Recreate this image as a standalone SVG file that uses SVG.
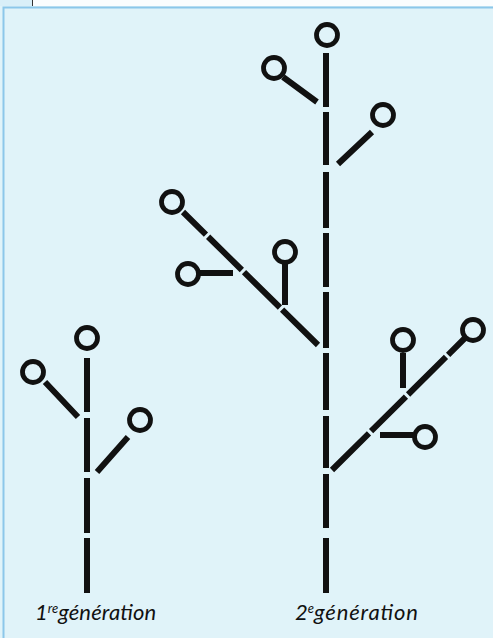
<svg xmlns="http://www.w3.org/2000/svg" width="493" height="638" viewBox="0 0 493 638">
<style>
.bg{fill:#e0f3f9}
.ln{stroke:#111;stroke-width:6;fill:none;stroke-linecap:butt}
.nd{stroke:#111;stroke-width:4.8;fill:none}
.lb{font-family:Lato,"Open Sans","Liberation Sans",sans-serif;font-style:italic;fill:#111;font-size:22px}
.sup{font-size:13px}
</style>
<rect x="0" y="0" width="493" height="638" fill="#fbfdfe"/>
<rect x="0" y="0" width="33" height="8" fill="#d9eff8"/>
<line x1="32.5" y1="0" x2="32.5" y2="7" stroke="#333" stroke-width="1"/>
<rect class="bg" x="0" y="6" width="493" height="632"/>
<path d="M3.5 638V7.5H493" stroke="#8cc7ea" stroke-width="2" fill="none"/>
<g id="connectors">
<path class="ln" d="M87 358V412M87 418V472M87 478V533M87 538V593"/>
<path class="ln" d="M45 382L78 417M128 437L97 472"/>
<path class="ln" d="M326 53V107M326 112V165M326 172V228M326 233V287M326 292V348M326 353V410M326 416V468M326 474V528M326 538V593"/>
<path class="ln" d="M283 77L317 102M372 132L338 164"/>
<path class="ln" d="M183 212L205.95 234.61M208.11 236.74L241.86 269.99M244.02 272.12L279.93 307.49M282.09 309.62L318 345"/>
<path class="ln" d="M200 273H233M285 263V305"/>
<path class="ln" d="M332 470L368.97 433.3M371.1 431.19L405.95 396.61M408.08 394.5L445.98 356.88M448.11 354.76L465 338"/>
<path class="ln" d="M403 353V388M380 435H413"/>
</g>
<g id="g1-top"><circle class="nd" cx="87" cy="338" r="10.5"/></g>
<g id="g1-left"><circle class="nd" cx="33" cy="372" r="10.5"/></g>
<g id="g1-right"><circle class="nd" cx="140" cy="420" r="10.5"/></g>
<g id="g2-top"><circle class="nd" cx="327" cy="35" r="10.5"/></g>
<g id="g2-upper-left"><circle class="nd" cx="274" cy="68" r="10.5"/></g>
<g id="g2-upper-right"><circle class="nd" cx="383" cy="115" r="10.5"/></g>
<g id="g2-left"><circle class="nd" cx="172" cy="202" r="10.5"/></g>
<g id="g2-left-h"><circle class="nd" cx="188" cy="274" r="10.5"/></g>
<g id="g2-left-v"><circle class="nd" cx="285" cy="252" r="10.5"/></g>
<g id="g2-right"><circle class="nd" cx="473" cy="330" r="10.5"/></g>
<g id="g2-right-v"><circle class="nd" cx="403" cy="340" r="10.5"/></g>
<g id="g2-right-h"><circle class="nd" cx="425" cy="437" r="10.5"/></g>
<g id="label1"><text class="lb" x="35" y="620">1<tspan class="sup" dy="-7">re</tspan><tspan dy="7" textLength="98">génération</tspan></text></g>
<g id="label2"><text class="lb" x="295" y="620">2<tspan class="sup" dy="-7">e</tspan><tspan dy="7" textLength="104">génération</tspan></text></g>
</svg>
